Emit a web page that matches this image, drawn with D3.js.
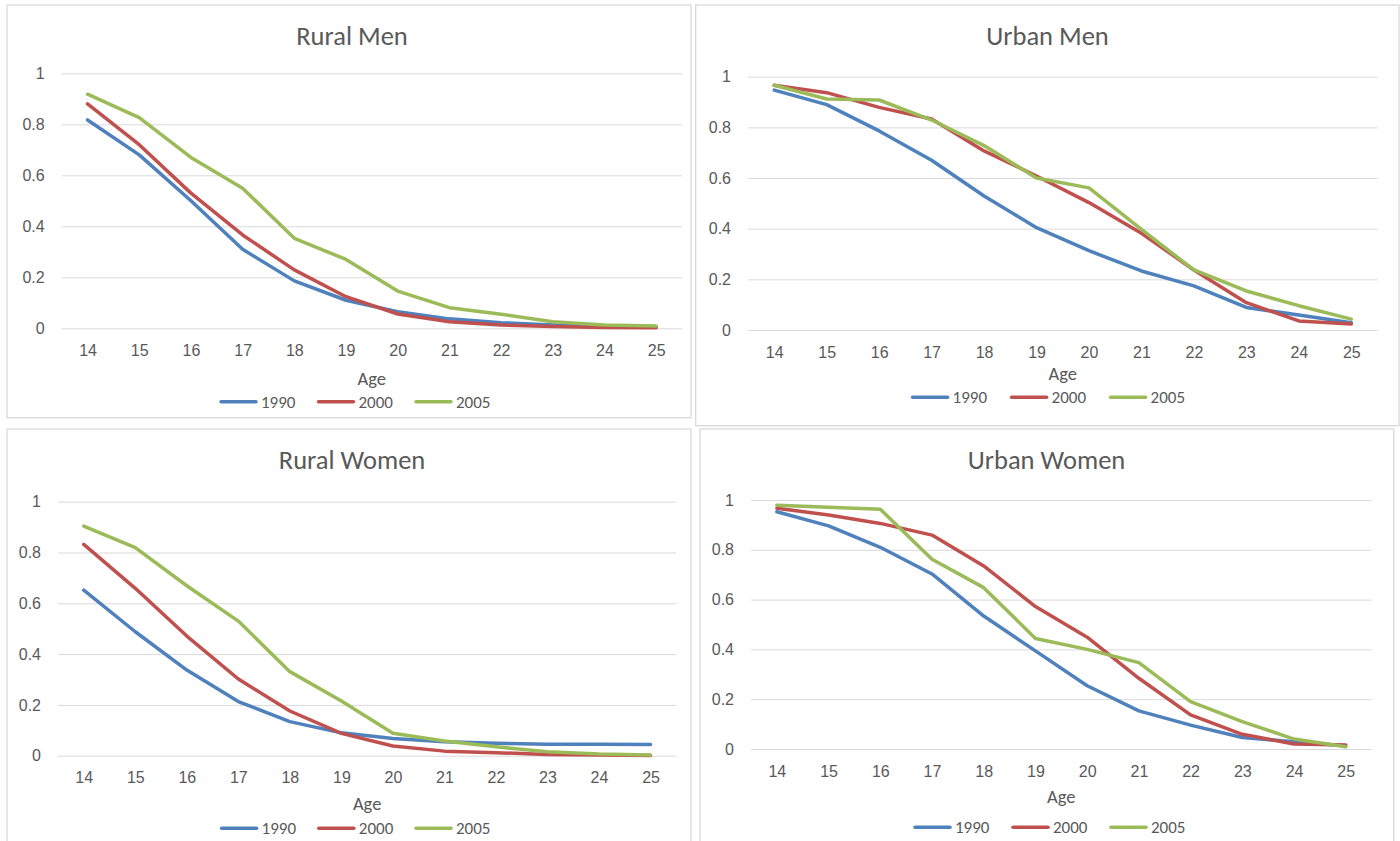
<!DOCTYPE html>
<html>
<head>
<meta charset="utf-8">
<script src="https://cdn.jsdelivr.net/npm/d3@7"></script>
<style>
  body { margin: 0; background: #ffffff; }
  svg { display: block; font-family: Carlito, Calibri, Lato, sans-serif; }
  .tick line { stroke: #d9d9d9; stroke-width: 1; }
  .tick text { fill: #595959; font-size: 16px; }
</style>
</head>
<body>
<div id="chart"></div>
<script>
// x categories and legend
var ages = [14, 15, 16, 17, 18, 19, 20, 21, 22, 23, 24, 25];
var years = ["1990", "2000", "2005"];
var yTicks = [0, 0.2, 0.4, 0.6, 0.8, 1];

// values
var ruralMen1990 = [0.817, 0.68, 0.50, 0.31, 0.186, 0.11, 0.065, 0.037, 0.022, 0.013, 0.007, 0.004];
var ruralMen2000 = [0.88, 0.72, 0.53, 0.366, 0.229, 0.124, 0.056, 0.026, 0.013, 0.007, 0.003, 0.002];
var ruralMen2005 = [0.918, 0.826, 0.67, 0.549, 0.353, 0.27, 0.146, 0.081, 0.055, 0.026, 0.013, 0.009];

var urbanMen1990 = [0.947, 0.89, 0.786, 0.67, 0.529, 0.404, 0.313, 0.233, 0.174, 0.089, 0.059, 0.029];
var urbanMen2000 = [0.966, 0.937, 0.879, 0.833, 0.707, 0.608, 0.503, 0.382, 0.237, 0.108, 0.036, 0.024];
var urbanMen2005 = [0.966, 0.912, 0.908, 0.829, 0.728, 0.6, 0.561, 0.397, 0.237, 0.154, 0.096, 0.043];

var ruralWomen1990 = [0.652, 0.488, 0.337, 0.213, 0.134, 0.09, 0.068, 0.055, 0.049, 0.045, 0.045, 0.044];
var ruralWomen2000 = [0.832, 0.659, 0.471, 0.302, 0.176, 0.088, 0.038, 0.018, 0.012, 0.005, 0.003, 0.001];
var ruralWomen2005 = [0.904, 0.819, 0.669, 0.53, 0.331, 0.215, 0.088, 0.058, 0.035, 0.016, 0.007, 0.003];

var urbanWomen1990 = [0.953, 0.896, 0.81, 0.703, 0.534, 0.394, 0.254, 0.153, 0.096, 0.046, 0.029, 0.013];
var urbanWomen2000 = [0.967, 0.94, 0.906, 0.859, 0.735, 0.572, 0.449, 0.284, 0.137, 0.059, 0.02, 0.016];
var urbanWomen2005 = [0.979, 0.971, 0.963, 0.762, 0.648, 0.444, 0.4, 0.347, 0.19, 0.11, 0.04, 0.009];

var colors = ["#4f81bd", "#c0504d", "#9bbb59"];

// panel layout (frame box, plot area, text spots)
var panels = [
  { title: "Rural Men", series: [ruralMen1990, ruralMen2000, ruralMen2005],
    frame: [7, 5, 691, 417.7], plotX: [61.7, 682], plotY: [328.3, 73.3],
    titleX: 352, titleY: 45, ageY: 385, legendX: 219, legendY: 401.7, legendStep: 97.5 },
  { title: "Urban Men", series: [urbanMen1990, urbanMen2000, urbanMen2005],
    frame: [695.7, 5, 1399, 425.7], plotX: [748, 1377.5], plotY: [330, 76.7],
    titleX: 1047.5, titleY: 45, ageY: 380, legendX: 910.6, legendY: 397.3, legendStep: 99 },
  { title: "Rural Women", series: [ruralWomen1990, ruralWomen2000, ruralWomen2005],
    frame: [7, 429, 691, 880], plotX: [58, 676.3], plotY: [755.7, 501.7],
    titleX: 352, titleY: 469.3, ageY: 810, legendX: 219.6, legendY: 828.3, legendStep: 97.2 },
  { title: "Urban Women", series: [urbanWomen1990, urbanWomen2000, urbanWomen2005],
    frame: [700, 429, 1393.7, 880], plotX: [751, 1371.6], plotY: [749, 500],
    titleX: 1046.5, titleY: 469.3, ageY: 803, legendX: 913, legendY: 827.3, legendStep: 98 }
];

var svg = d3.select("#chart")
    .append("svg")
    .attr("width", 1400)
    .attr("height", 841);

panels.forEach(function(p) {
  var g = svg.append("g");

  // chart frame
  g.append("rect")
      .attr("x", p.frame[0])
      .attr("y", p.frame[1])
      .attr("width", p.frame[2] - p.frame[0])
      .attr("height", p.frame[3] - p.frame[1])
      .attr("fill", "#ffffff")
      .attr("stroke", "#d9d9d9")
      .attr("stroke-width", 1.3);

  var xScale = d3.scalePoint()
      .domain(ages)
      .range(p.plotX)
      .padding(0.5);

  var yScale = d3.scaleLinear()
      .domain([0, 1])
      .range(p.plotY);

  // y axis with gridlines
  var yAxis = d3.axisLeft(yScale)
      .tickValues(yTicks)
      .tickFormat(d3.format("~g"))
      .tickSize(-(p.plotX[1] - p.plotX[0]))
      .tickPadding(17);

  g.append("g")
      .attr("transform", `translate(${p.plotX[0]}, 0)`)
      .call(yAxis)
      .call(function(a) { a.select(".domain").remove(); });

  // x axis labels only
  var xAxis = d3.axisBottom(xScale).tickSize(0);

  g.append("g")
      .attr("transform", `translate(0, ${p.plotY[0]})`)
      .call(xAxis)
      .call(function(a) {
        a.select(".domain").remove();
        a.selectAll("text").attr("dy", null).attr("y", 27.5);
      });

  // title
  g.append("text")
      .attr("x", p.titleX)
      .attr("y", p.titleY)
      .attr("text-anchor", "middle")
      .attr("fill", "#595959")
      .attr("font-size", 26.5)
      .text(p.title);

  // axis title
  g.append("text")
      .attr("x", (p.plotX[0] + p.plotX[1]) / 2)
      .attr("y", p.ageY)
      .attr("text-anchor", "middle")
      .attr("fill", "#595959")
      .attr("font-size", 18.5)
      .text("Age");

  // lines
  var line = d3.line()
      .x(function(d, i) { return xScale(ages[i]); })
      .y(function(d) { return yScale(d); });

  p.series.forEach(function(values, i) {
    g.append("path")
        .datum(values)
        .attr("d", line)
        .attr("fill", "none")
        .attr("stroke", colors[i])
        .attr("stroke-width", 3.5)
        .attr("stroke-linejoin", "round")
        .attr("stroke-linecap", "round");
  });

  // legend
  years.forEach(function(year, i) {
    var lx = p.legendX + i * p.legendStep;
    g.append("line")
        .attr("x1", lx + 2)
        .attr("x2", lx + 37)
        .attr("y1", p.legendY)
        .attr("y2", p.legendY)
        .attr("stroke", colors[i])
        .attr("stroke-width", 3.5)
        .attr("stroke-linecap", "round");
    g.append("text")
        .attr("x", lx + 42)
        .attr("y", p.legendY)
        .attr("dy", "0.35em")
        .attr("fill", "#595959")
        .attr("font-size", 17)
        .text(year);
  });
});
</script>
</body>
</html>
